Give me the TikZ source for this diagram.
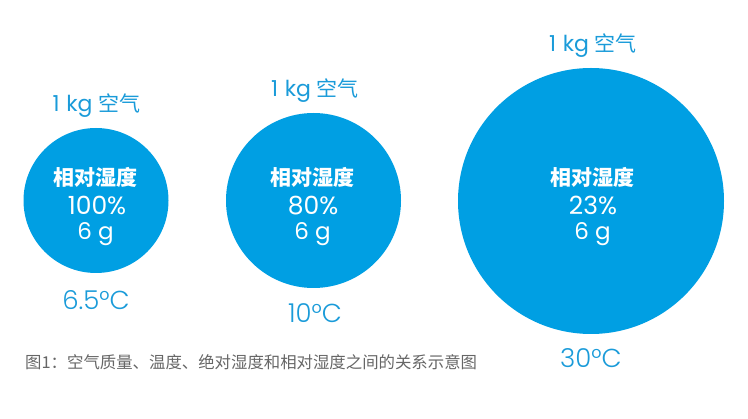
\documentclass[tikz,border=0pt]{standalone}
\usepackage{fontspec}
\setmainfont{Poppins}
\newfontfamily\poplight{Poppins Light}
\newfontfamily\cjk{Noto Sans CJK SC}
\definecolor{bubblefill}{HTML}{009FE3}
\definecolor{lblcol}{HTML}{1A9BD9}
\definecolor{capcol}{HTML}{666666}
\begin{document}
\begin{tikzpicture}[x=1pt,y=-1pt,
  bubble/.style={circle, fill=bubblefill, draw=none, inner sep=0pt},
  toplbl/.style={text=lblcol, anchor=base, inner sep=0pt, font=\fontsize{22}{26}\selectfont},
  templbl/.style={text=lblcol, anchor=base, inner sep=0pt, font=\poplight\fontsize{26}{30}\selectfont},
  headlbl/.style={text=white, anchor=base, inner sep=0pt, font=\cjk\bfseries\fontsize{21}{25}\selectfont},
  pctlbl/.style={text=white, anchor=base, inner sep=0pt, font=\fontsize{25}{30}\selectfont},
  masslbl/.style={text=white, anchor=base, inner sep=0pt, font=\fontsize{23}{26}\selectfont},
  caplbl/.style={text=capcol, anchor=base west, inner sep=0pt, font=\cjk\fontsize{16.4}{20}\selectfont}]
\useasboundingbox (0,0) rectangle (748,419);
% circles
\node[bubble, minimum size=145pt] (c1) at (96,200.5) {};
\node[bubble, minimum size=175pt] (c2) at (313.5,200.5) {};
\node[bubble, minimum size=266pt] (c3) at (591,201) {};
% top labels
\node[toplbl] (k1) at (96.5,112) {1\hspace{0.3em}kg {\cjk\fontsize{21}{25}\selectfont 空气}};
\node[toplbl] (k2) at (315,97) {1\hspace{0.3em}kg {\cjk\fontsize{21}{25}\selectfont 空气}};
\node[toplbl] (k3) at (593,52) {1\hspace{0.3em}kg {\cjk\fontsize{21}{25}\selectfont 空气}};
% inside texts
\node[headlbl] (h1) at (95.5,185.5) {相对湿度};
\node[pctlbl] (p1) at (97,215) {100\%};
\node[masslbl] (m1) at (95.5,240) {6 g};
\node[headlbl] (h2) at (312.5,185.5) {相对湿度};
\node[pctlbl] (p2) at (313,215) {80\%};
\node[masslbl] (m2) at (312.5,240) {6 g};
\node[headlbl] (h3) at (592.5,185.5) {相对湿度};
\node[pctlbl] (p3) at (593,215) {23\%};
\node[masslbl] (m3) at (592.5,240) {6 g};
% temperatures
\node[templbl] (t1) at (96,310) {6.5°C};
\node[templbl] (t2) at (315,323) {10°C};
\node[templbl] (t3) at (591,368) {30°C};
% caption
\node[caplbl] (cap) at (25,369) {图1：空气质量、温度、绝对湿度和相对湿度之间的关系示意图};
\end{tikzpicture}
\end{document}
